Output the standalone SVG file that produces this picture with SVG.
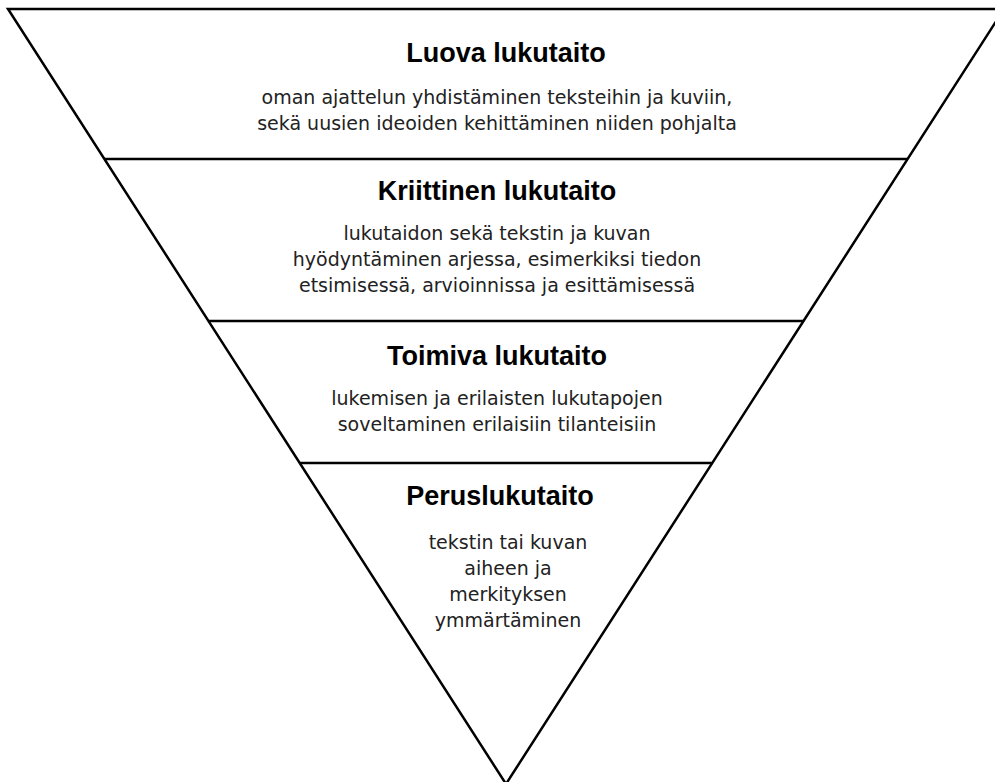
<svg xmlns="http://www.w3.org/2000/svg" width="995" height="782" viewBox="0 0 995 782">
<style>
.ln{stroke:#000;stroke-width:2.5;fill:none;stroke-linecap:butt}
.t{font-family:"Liberation Sans",Arial,sans-serif;font-weight:bold;font-size:27px;fill:#000;text-anchor:middle}
.b{font-family:"DejaVu Sans","Noto Sans",sans-serif;font-size:19px;fill:#222;text-anchor:middle}
</style>
<rect width="995" height="782" fill="#fff"/>
<g id="connectors">
<path class="ln" d="M8,9 H1004 L506,784 Z"/>
<path class="ln" d="M104.5,159 H907.5"/>
<path class="ln" d="M208.5,321 H803.5"/>
<path class="ln" d="M299.5,463 H712.5"/>
</g>
<g id="luova">
<text class="t" x="506" y="62">Luova lukutaito</text>
<text class="b" x="497" y="104">oman ajattelun yhdistäminen teksteihin ja kuviin,</text>
<text class="b" x="497" y="130">sekä uusien ideoiden kehittäminen niiden pohjalta</text>
</g>
<g id="kriittinen">
<text class="t" x="497" y="200">Kriittinen lukutaito</text>
<text class="b" x="497" y="240">lukutaidon sekä tekstin ja kuvan</text>
<text class="b" x="497" y="266">hyödyntäminen arjessa, esimerkiksi tiedon</text>
<text class="b" x="497" y="292">etsimisessä, arvioinnissa ja esittämisessä</text>
</g>
<g id="toimiva">
<text class="t" x="497" y="365">Toimiva lukutaito</text>
<text class="b" x="497" y="405">lukemisen ja erilaisten lukutapojen</text>
<text class="b" x="497" y="431">soveltaminen erilaisiin tilanteisiin</text>
</g>
<g id="perus">
<text class="t" x="500" y="505">Peruslukutaito</text>
<text class="b" x="508" y="549">tekstin tai kuvan</text>
<text class="b" x="508" y="575">aiheen ja</text>
<text class="b" x="508" y="601">merkityksen</text>
<text class="b" x="508" y="627">ymmärtäminen</text>
</g>
</svg>
